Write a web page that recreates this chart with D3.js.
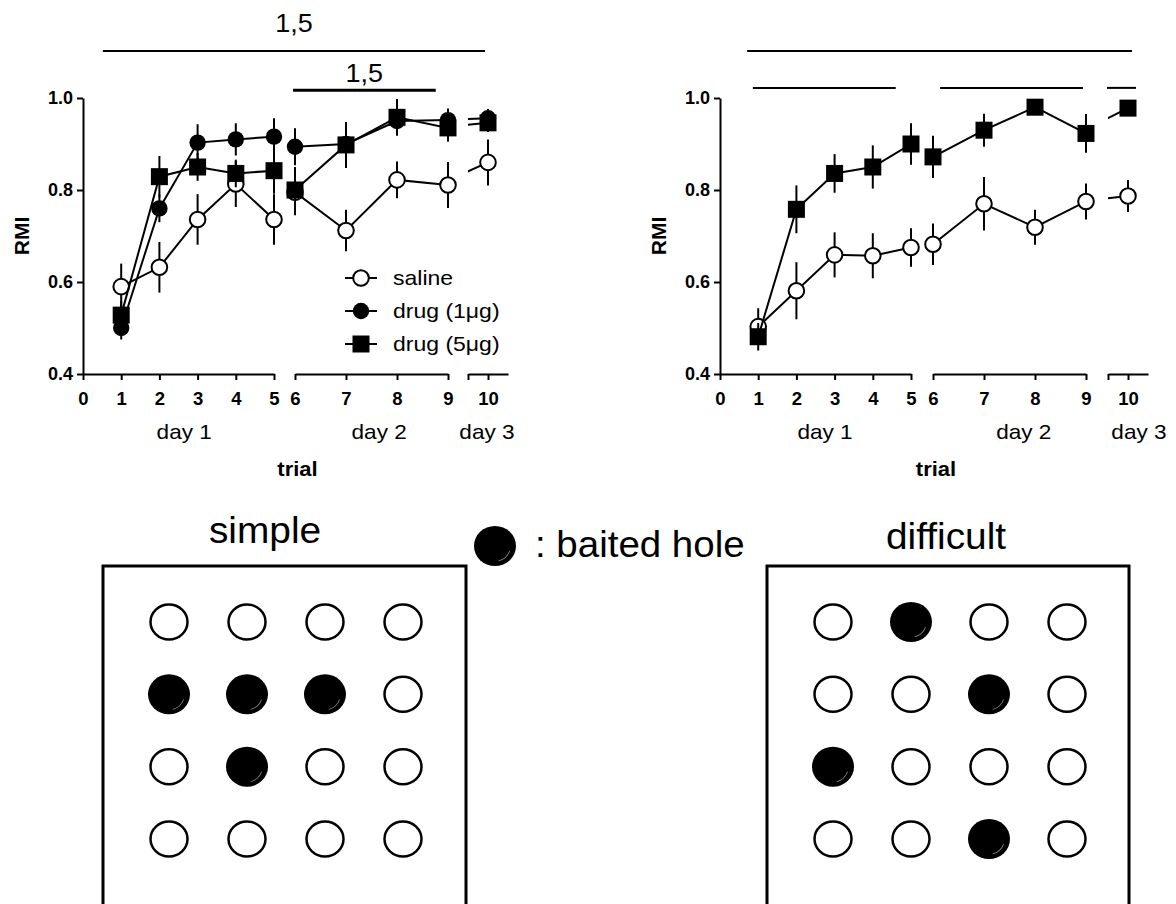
<!DOCTYPE html>
<html lang="en">
  <head>
    <meta charset="utf-8">
    <title>RMI by trial</title>
    <script src="https://cdn.jsdelivr.net/npm/d3@7"></script>
    <style>
      body { margin: 0; background: #fff; }
      svg { font-family: "Liberation Sans", Arial, sans-serif; }
    </style>
  </head>

  <body>
    <div id='chart'></div>

    <script type='text/javascript'>
      // ---- data ----
      let trials = [1, 2, 3, 4, 5, 6, 7, 8, 9, 10];
      let yTicks = [0.4, 0.6, 0.8, 1.0];
      let segTicks = [[0, 1, 2, 3, 4, 5], [6, 7, 8, 9], [9.6, 10]];
      let dayLabels = ['day 1', 'day 2', 'day 3'];

      // simple task
      let simpleSaline    = [0.590, 0.632, 0.736, 0.813, 0.736, 0.795, 0.712, 0.822, 0.811, 0.860];
      let simpleSalineSem = [0.050, 0.055, 0.055, 0.050, 0.055, 0.050, 0.045, 0.040, 0.050, 0.050];
      let simpleDrug1     = [0.500, 0.760, 0.903, 0.910, 0.916, 0.894, 0.900, 0.950, 0.952, 0.956];
      let simpleDrug1Sem  = [0.025, 0.030, 0.040, 0.035, 0.040, 0.040, 0.040, 0.030, 0.025, 0.020];
      let simpleDrug5     = [0.528, 0.829, 0.850, 0.836, 0.842, 0.800, 0.898, 0.958, 0.935, 0.946];
      let simpleDrug5Sem  = [0.030, 0.045, 0.030, 0.030, 0.050, 0.050, 0.050, 0.040, 0.030, 0.020];

      // difficult task
      let difficultSaline    = [0.503, 0.581, 0.659, 0.657, 0.675, 0.682, 0.770, 0.719, 0.775, 0.787];
      let difficultSalineSem = [0.040, 0.062, 0.049, 0.049, 0.042, 0.045, 0.058, 0.038, 0.039, 0.035];
      let difficultDrug5     = [0.481, 0.758, 0.836, 0.850, 0.900, 0.872, 0.930, 0.980, 0.923, 0.978];
      let difficultDrug5Sem  = [0.030, 0.052, 0.042, 0.047, 0.045, 0.046, 0.036, 0.010, 0.042, 0.015];

      // significance bars: [segment, trial] start / end, level in RMI units, label
      let sigSimple = [
        { from: [0, 0.52], to: [2, 9.94], level: 1.102, label: '1,5', width: 2, gap: 19 },
        { from: [1, 5.96], to: [1, 8.76], level: 1.017, label: '1,5', width: 3, gap: 8 }
      ];
      let sigDifficult = [
        { from: [0, 0.71], to: [2, 10.08], level: 1.102, label: '', width: 2 },
        { from: [0, 0.86], to: [0, 4.60], level: 1.022, label: '', width: 2 },
        { from: [1, 6.14], to: [1, 8.94], level: 1.022, label: '', width: 2 },
        { from: [2, 9.58], to: [2, 10.16], level: 1.022, label: '', width: 2 }
      ];

      // hole boards (1 = baited)
      let simpleBoard    = [[0, 0, 0, 0], [1, 1, 1, 0], [0, 1, 0, 0], [0, 0, 0, 0]];
      let difficultBoard = [[0, 1, 0, 0], [0, 0, 1, 0], [1, 0, 0, 0], [0, 0, 1, 0]];

      // ---- drawing ----
      let width = 1176, height = 904;
      let svg = d3.select('#chart').append('svg')
        .attr('width', width)
        .attr('height', height);

      let y = d3.scaleLinear().domain([0.4, 1.0]).range([374, 98]);

      // text that is a little wider than the font (the figure was stretched sideways)
      function txt(g, x, yy, str, size, sx, anchor, weight) {
        return g.append('text')
          .attr('transform', 'translate(' + x + ',' + yy + ') scale(' + sx + ',1)')
          .attr('text-anchor', anchor || 'start')
          .attr('font-size', size)
          .attr('font-weight', weight || 'normal')
          .text(str);
      }

      function drawPanel(id, segRanges, series, sig, dayPos, legend) {
        let g = svg.append('g').attr('class', id);
        let segDomains = [[0, 5], [6, 9], [9.6, 10.4]];
        let xs = segDomains.map((d, i) => d3.scaleLinear().domain(d).range(segRanges[i]));
        let segOf = (t) => t <= 5 ? 0 : (t <= 9 ? 1 : 2);

        // clip paths for each segment
        xs.forEach((x, i) => {
          g.append('clipPath').attr('id', id + '-clip' + i)
            .append('rect')
            .attr('x', x.range()[0]).attr('y', 0)
            .attr('width', x.range()[1] - x.range()[0]).attr('height', 400);
        });

        // y axis
        g.append('g')
          .attr('transform', 'translate(' + segRanges[0][0] + ',0)')
          .call(d3.axisLeft(y).tickValues(yTicks).tickFormat(d3.format('.1f')).tickSize(6).tickSizeOuter(0).tickPadding(4))
          .call(a => a.selectAll('path,line').attr('stroke', '#000').attr('stroke-width', 2))
          .call(a => a.selectAll('text').attr('fill', '#000').attr('font-size', 18).attr('font-weight', 'bold'));

        // x axis segments
        xs.forEach((x, i) => {
          g.append('g')
            .attr('transform', 'translate(0,' + y(0.4) + ')')
            .call(d3.axisBottom(x).tickValues(segTicks[i]).tickSize(6).tickSizeOuter(0).tickPadding(12)
              .tickFormat(d => Number.isInteger(d) ? d : ''))
            .call(a => a.selectAll('path,line').attr('stroke', '#000').attr('stroke-width', 2))
            .call(a => a.selectAll('text').attr('fill', '#000').attr('font-size', 18.5).attr('font-weight', 'bold'));
        });

        // day labels
        dayLabels.forEach((d, i) => txt(g, xs[i](dayPos[i]), 439, d, 20, 1.13, 'middle'));

        txt(g, (segRanges[0][0] + segRanges[2][1]) / 2 + 2, 476, 'trial', 20, 1.1, 'middle', 'bold');

        g.append('text')
          .attr('transform', 'translate(' + (segRanges[0][0] - 54) + ',' + y(0.7) + ') rotate(-90)')
          .attr('text-anchor', 'middle')
          .attr('font-size', 21)
          .attr('font-weight', 'bold')
          .text('RMI');

        // significance bars
        sig.forEach(s => {
          let x1 = xs[s.from[0]](s.from[1]), x2 = xs[s.to[0]](s.to[1]);
          g.append('line')
            .attr('x1', x1).attr('x2', x2)
            .attr('y1', y(s.level)).attr('y2', y(s.level))
            .attr('stroke', '#000').attr('stroke-width', s.width);
          if (s.label) txt(g, (x1 + x2) / 2, y(s.level) - s.gap, s.label, 25, 1.08, 'middle');
        });

        // data series
        series.forEach(s => {
          let pts = trials.map((t, i) => ({ t: t, v: s.mean[i], e: s.sem[i], seg: segOf(t) }));

          xs.forEach((x, i) => {
            g.append('path')
              .datum(pts)
              .attr('clip-path', 'url(#' + id + '-clip' + i + ')')
              .attr('fill', 'none')
              .attr('stroke', '#000')
              .attr('stroke-width', 2)
              .attr('d', d3.line().x(d => x(d.t)).y(d => y(d.v)));
          });

          g.selectAll(null).data(pts).enter().append('line')
            .attr('x1', d => xs[d.seg](d.t)).attr('x2', d => xs[d.seg](d.t))
            .attr('y1', d => y(d.v - d.e)).attr('y2', d => y(d.v + d.e))
            .attr('stroke', '#000').attr('stroke-width', 2);

          drawMarkers(g, pts, s.shape, d => xs[d.seg](d.t), d => y(d.v));
        });

        // legend
        if (legend) {
          let lg = g.append('g');
          legend.forEach((s, i) => {
            let ly = 278 + i * 33;
            lg.append('line').attr('x1', 345).attr('x2', 377).attr('y1', ly).attr('y2', ly)
              .attr('stroke', '#000').attr('stroke-width', 2);
            drawMarkers(lg, [{}], s.shape, () => 361, () => ly);
            txt(lg, 393, ly + 7, s.name, 20, 1.15);
          });
        }
      }

      function drawMarkers(g, pts, shape, fx, fy) {
        if (shape == 'square') {
          g.selectAll(null).data(pts).enter().append('rect')
            .attr('x', d => fx(d) - 8.5).attr('y', d => fy(d) - 8.5)
            .attr('width', 17).attr('height', 17).attr('fill', '#000');
        } else {
          g.selectAll(null).data(pts).enter().append('circle')
            .attr('cx', fx).attr('cy', fy)
            .attr('r', shape == 'open' ? 7.8 : 8.2)
            .attr('fill', shape == 'open' ? '#fff' : '#000')
            .attr('stroke', '#000').attr('stroke-width', shape == 'open' ? 2 : 0);
        }
      }

      let simpleSeries = [
        { name: 'saline', shape: 'open', mean: simpleSaline, sem: simpleSalineSem },
        { name: 'drug (1\u03bcg)', shape: 'filled', mean: simpleDrug1, sem: simpleDrug1Sem },
        { name: 'drug (5\u03bcg)', shape: 'square', mean: simpleDrug5, sem: simpleDrug5Sem }
      ];
      let difficultSeries = [
        { name: 'saline', shape: 'open', mean: difficultSaline, sem: difficultSalineSem },
        { name: 'drug (5\u03bcg)', shape: 'square', mean: difficultDrug5, sem: difficultDrug5Sem }
      ];

      drawPanel('simple', [[83, 274], [295, 448], [468, 508]], simpleSeries, sigSimple,
        [2.65, 7.65, 9.98], simpleSeries);
      drawPanel('difficult', [[720, 911], [933, 1086], [1108, 1148]], difficultSeries, sigDifficult,
        [2.75, 7.78, 10.22], null);

      // ---- hole boards ----
      function hole(g, cx, cy, baited) {
        if (baited) {
          g.append('ellipse').attr('cx', cx).attr('cy', cy).attr('rx', 21).attr('ry', 20).attr('fill', '#000');
          g.append('path')
            .attr('transform', 'translate(' + cx + ',' + cy + ')')
            .attr('d', d3.arc()({ innerRadius: 15, outerRadius: 15.8, startAngle: 1.9, endAngle: 2.9 }))
            .attr('fill', '#888');
        } else {
          g.append('ellipse').attr('cx', cx).attr('cy', cy).attr('rx', 18.5).attr('ry', 17.5)
            .attr('fill', '#fff').attr('stroke', '#000').attr('stroke-width', 2.5);
        }
      }

      function drawBoard(title, titleX, titleY, box, cols, board) {
        let g = svg.append('g');
        txt(g, titleX, titleY, title, 37, 1.05, 'middle');
        g.append('rect').attr('x', box[0]).attr('y', 566).attr('width', box[1] - box[0]).attr('height', 400)
          .attr('fill', 'none').attr('stroke', '#000').attr('stroke-width', 3);
        let cx = d3.scaleLinear().domain([0, 3]).range(cols);
        let cy = d3.scaleLinear().domain([0, 3]).range([622, 839]);
        board.forEach((row, r) => row.forEach((b, c) => hole(g, cx(c), cy(r), b)));
      }

      drawBoard('simple', 265, 543, [103, 466], [169, 403], simpleBoard);
      drawBoard('difficult', 946, 549, [767, 1129], [833, 1067], difficultBoard);

      let key = svg.append('g');
      hole(key, 495, 546, 1);
      txt(key, 535, 557, ': baited hole', 37, 1.04);
    </script>
  </body>
</html>
